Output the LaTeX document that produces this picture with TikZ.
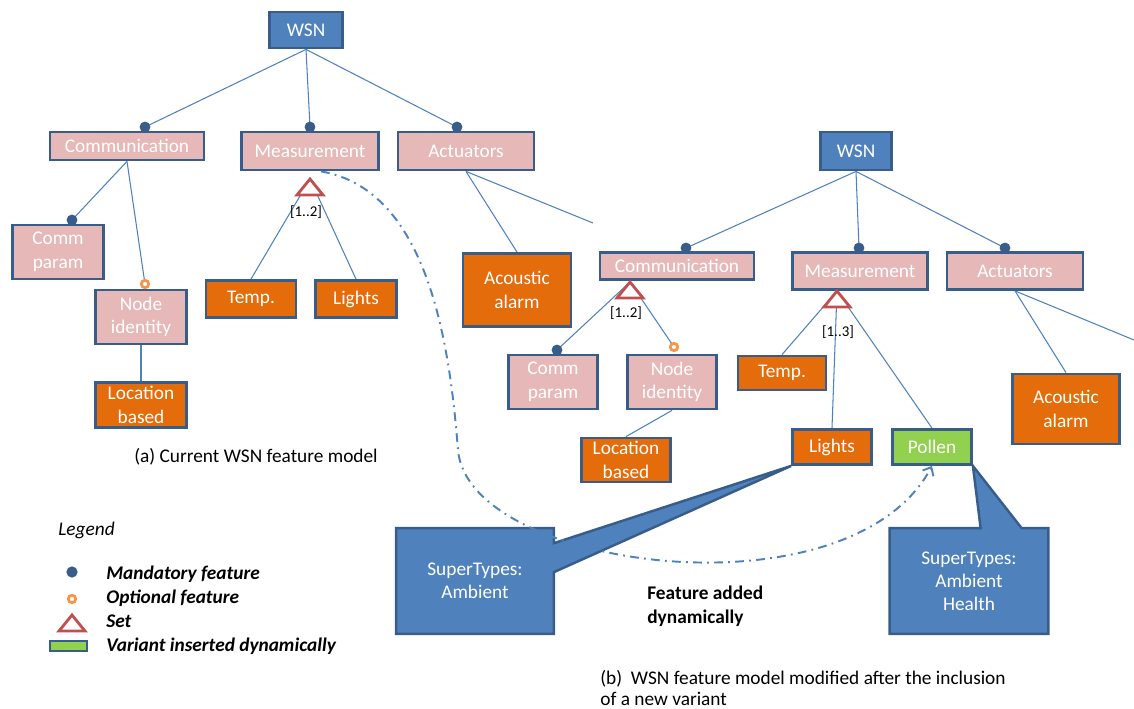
\documentclass[tikz,border=0pt]{standalone}
\usepackage{fontspec}
\setmainfont{Carlito}
\usepackage{xcolor}
\usetikzlibrary{arrows.meta,backgrounds}
\definecolor{fmblue}{HTML}{4F81BD}
\definecolor{fmedge}{HTML}{385D8A}
\definecolor{fmpink}{HTML}{E6B9B8}
\definecolor{fmorange}{HTML}{E46C0A}
\definecolor{fmgreen}{HTML}{92D050}
\definecolor{fmred}{HTML}{C0504D}
\definecolor{fmring}{HTML}{F79646}
\tikzset{
	feat/.style={draw=fmedge, line width=1.6pt, text=white, inner sep=0pt, align=center,
			font=\fontsize{11}{13.4}\selectfont},
	root/.style={feat, fill=fmblue},
	abstr/.style={feat, fill=fmpink},
	concr/.style={feat, fill=fmorange},
	added/.style={feat, fill=fmgreen},
	link/.style={draw=fmblue, line width=0.6pt},
	setmark/.style={draw=fmred, line width=1.6pt, fill=white, line join=miter},
	card/.style={inner sep=0pt, font=\fontsize{8.5}{10}\selectfont},
	callout/.style={fill=fmblue, draw=fmedge, line width=1.4pt, line join=miter},
	calltext/.style={inner sep=0pt, align=center, text=white, font=\fontsize{11}{13.2}\selectfont},
	plain/.style={inner sep=0pt, align=left, font=\fontsize{11}{13.6}\selectfont},
	legtext/.style={plain, anchor=west, font=\fontsize{11}{13.6}\selectfont\bfseries\itshape},
}
\newcommand{\fmmand}[1]{\fill[fmedge] (#1) circle (3.1pt);}
\newcommand{\fmopt}[1]{\draw[fmring, line width=1.6pt, fill=white] (#1) circle (2.1pt);}
\newcommand{\fmset}[1]{\draw[setmark] (#1) -- ++(-13,16) -- ++(26,0) -- cycle;}

\begin{document}
\begin{tikzpicture}[x=0.02cm, y=-0.02cm]
	\useasboundingbox (0,0) rectangle (1134,708);

	% (a) current model
	\node[root, minimum width=1.46cm, minimum height=0.72cm] (wsnA) at (306,30) {WSN};
	\node[abstr, minimum width=3.08cm, minimum height=0.56cm] (commA) at (127,146) {Communication};
	\node[abstr, minimum width=2.74cm, minimum height=0.76cm] (measA) at (310,151) {Measurement};
	\node[abstr, minimum width=2.72cm, minimum height=0.76cm] (actA) at (466,151) {Actuators};
	\node[abstr, minimum width=1.82cm, minimum height=1.08cm] (cparA) at (58,252) {Comm\\param};
	\node[abstr, minimum width=1.82cm, minimum height=1.08cm] (nidA) at (141,317) {Node\\identity};
	\node[concr, minimum width=1.82cm, minimum height=0.9cm] (locA) at (141,405) {Location\\based};
	\node[concr, minimum width=1.8cm, minimum height=0.74cm] (tempA) at (251,299) {Temp.};
	\node[concr, minimum width=1.62cm, minimum height=0.74cm] (lightA) at (356,299) {Lights};
	\node[concr, minimum width=2.16cm, minimum height=1.46cm] (acouA) at (517,290) {Acoustic\\alarm};

	\coordinate (dA1) at (145,127);
	\coordinate (dA2) at (310,127);
	\coordinate (dA3) at (457,127);
	\coordinate (dA4) at (72,220);
	\coordinate (oA) at (145,284);
	\coordinate (tA) at (310,179);
	\coordinate (cutA) at (593,223);

	% (b) modified model
	\node[root, minimum width=1.42cm, minimum height=0.76cm] (wsnB) at (856,151) {WSN};
	\node[abstr, minimum width=3.08cm, minimum height=0.54cm] (commB) at (677,266) {Communication};
	\node[abstr, minimum width=2.7cm, minimum height=0.74cm] (measB) at (860,271) {Measurement};
	\node[abstr, minimum width=2.72cm, minimum height=0.74cm] (actB) at (1015,271) {Actuators};
	\node[abstr, minimum width=1.78cm, minimum height=1.08cm] (cparB) at (553,382) {Comm\\param};
	\node[abstr, minimum width=1.78cm, minimum height=1.08cm] (nidB) at (672,382) {Node\\identity};
	\node[concr, minimum width=1.78cm, minimum height=0.88cm] (locB) at (626,460) {Location\\based};
	\node[concr, minimum width=1.76cm, minimum height=0.68cm] (tempB) at (782,373) {Temp.};
	\node[concr, minimum width=1.58cm, minimum height=0.7cm] (lightB) at (832,447) {Lights};
	\node[added, minimum width=1.58cm, minimum height=0.7cm] (pollB) at (932,447) {Pollen};
	\node[concr, minimum width=2.14cm, minimum height=1.4cm] (acouB) at (1066,409) {Acoustic\\alarm};

	\coordinate (dB1) at (686,248);
	\coordinate (dB2) at (859,248);
	\coordinate (dB3) at (1005,248);
	\coordinate (dB4) at (557,350);
	\coordinate (oB) at (674,347);
	\coordinate (tB1) at (630,282);
	\coordinate (tB2) at (837,291);
	\coordinate (cutB) at (1134,340);

	\node[calltext, minimum width=3.14cm, minimum height=2.1cm] (callA) at (475,581) {SuperTypes:\\Ambient};
	\node[calltext, minimum width=3.16cm, minimum height=2.1cm] (callB) at (969,581) {SuperTypes:\\Ambient\\Health};

	\begin{scope}[on background layer]
		\filldraw[callout] (callA.north west) -- (callA.north east) -- ([yshift=-0.3cm]callA.north east)
		-- (lightB.south west) -- ([yshift=-0.88cm]callA.north east) -- (callA.south east)
		-- (callA.south west) -- cycle;
		\filldraw[callout] (callB.north west) -- ([xshift=1.82cm]callB.north west) -- (pollB.south east)
		-- ([xshift=2.64cm]callB.north west) -- (callB.north east) -- (callB.south east)
		-- (callB.south west) -- cycle;

		\draw[link] (wsnA.south) -- (dA1);
		\draw[link] (wsnA.south) -- (dA2);
		\draw[link] (wsnA.south) -- (dA3);
		\draw[link] (commA.south) -- (dA4);
		\draw[link] (commA.south) -- (oA);
		\draw[link] (nidA.south) -- (locA.north);
		\draw[link] (tA) -- (tempA.north);
		\draw[link] (tA) -- (lightA.north);
		\draw[link] (actA.south) -- (acouA.north);
		\draw[link] (actA.south) -- (cutA);
		\fmmand{dA1} \fmmand{dA2} \fmmand{dA3} \fmmand{dA4}

		\draw[link] (wsnB.south) -- (dB1);
		\draw[link] (wsnB.south) -- (dB2);
		\draw[link] (wsnB.south) -- (dB3);
		\draw[link] (tB1) -- (dB4);
		\draw[link] (tB1) -- (oB);
		\draw[link] (nidB.south) -- (locB.north);
		\draw[link] (tB2) -- (tempB.north);
		\draw[link] (tB2) -- (lightB.north);
		\draw[link] (tB2) -- (pollB.north);
		\draw[link] (actB.south) -- (acouB.north);
		\draw[link] (actB.south) -- (cutB);
		\fmmand{dB1} \fmmand{dB2} \fmmand{dB3} \fmmand{dB4}
	\end{scope}

	\fmset{tA} \fmset{tB1} \fmset{tB2}
	\fmopt{oA} \fmopt{oB}
	\node[card] (cardA) at (306,212) {[1..2]};
	\node[card] (cardB1) at (626,313) {[1..2]};
	\node[card] (cardB2) at (838,332) {[1..3]};

	\draw[fmblue, line width=1.1pt, dash pattern=on 5pt off 3pt on 1pt off 3pt,
		-{Straight Barb[length=4pt, width=7pt]}]
	([xshift=0.22cm]measA.south) .. controls (430,190) and (450,350) .. (458,450)
	.. controls (468,570) and (850,620) .. (pollB.south);

	\node[plain, anchor=west] (capA) at (134,457) {(a) Current WSN feature model};
	\node[plain, anchor=west, font=\fontsize{11}{13.6}\selectfont\bfseries] (added) at (647,606) {Feature added\\dynamically};
	\node[plain, anchor=west, font=\fontsize{11}{12}\selectfont] (capB) at (600,688) {(b)\ \ WSN feature model modified after the inclusion\\of a new variant};

	% legend
	\node[plain, anchor=west, font=\fontsize{11}{13.6}\selectfont\itshape] (lgd) at (58,530) {Legend};
	\coordinate (lgdot) at (72,572);
	\coordinate (lgring) at (72,599);
	\coordinate (lgset) at (72,615);
	\fill[fmedge] (lgdot) circle (3.2pt);
	\fmopt{lgring}
	\fmset{lgset}
	\draw[fmedge, fill=fmgreen, line width=1.4pt] (50,641) rectangle (87,651);
	\node[legtext] (lg1) at (106,574) {Mandatory feature};
	\node[legtext] (lg2) at (106,598) {Optional feature};
	\node[legtext] (lg3) at (106,621) {Set};
	\node[legtext] (lg4) at (106,646) {Variant inserted dynamically};
\end{tikzpicture}
\end{document}
